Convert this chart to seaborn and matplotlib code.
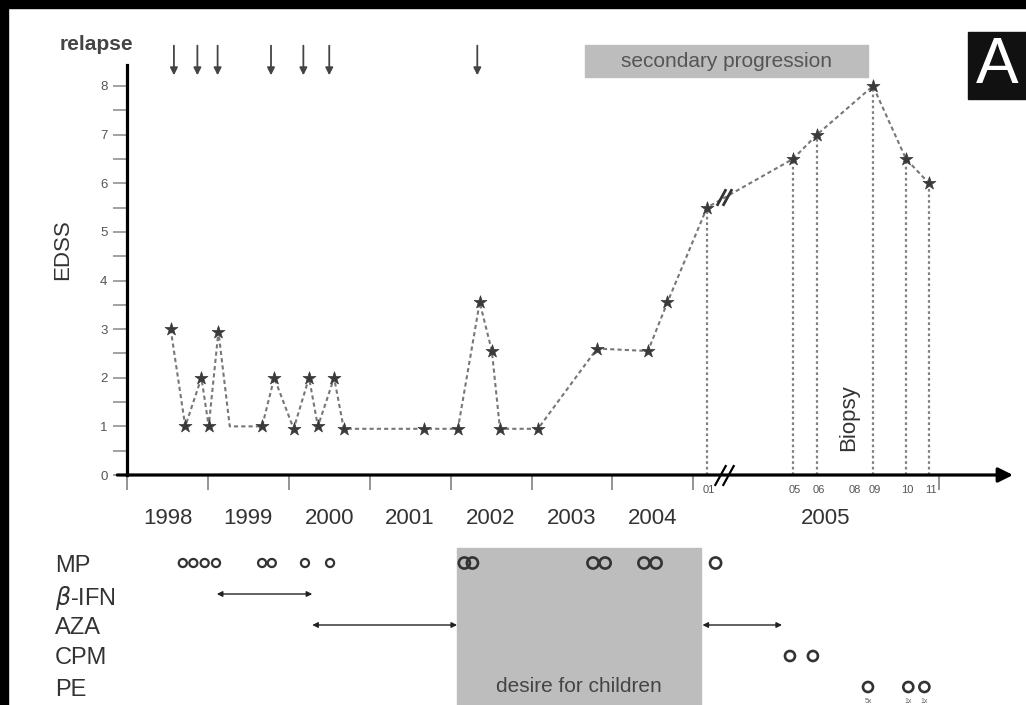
import numpy as np
import pandas as pd
import matplotlib
matplotlib.use("Agg")
import matplotlib.pyplot as plt
import matplotlib.transforms as mtransforms
from matplotlib.patches import Rectangle
import seaborn as sns

# ---------------- data ----------------
# EDSS course 1998-2004 (decimal years)
edss_years = [1998.54, 1998.72, 1998.92, 1999.01, 1999.13, 1999.27, 1999.67, 1999.82,
              2000.06, 2000.25, 2000.36, 2000.56, 2000.68, 2001.67, 2002.09, 2002.36,
              2002.51, 2002.61, 2003.08, 2003.81, 2004.44, 2004.68]
edss_values = [3.0, 1.0, 2.0, 1.0, 2.95, 1.0, 1.0, 2.0, 0.95, 2.0, 1.0, 2.0, 0.95,
               0.95, 0.95, 3.55, 2.55, 0.95, 0.95, 2.6, 2.55, 3.55]
edss_is_visit = [True] * 5 + [False] + [True] * 16
# EDSS in 2005 (month numbers)
edss_2005_months = [1, 5, 6, 9, 10, 11]
edss_2005_values = [5.5, 6.5, 7.0, 8.0, 6.5, 6.0]

relapse_years = [1998.58, 1998.87, 1999.12, 1999.78, 2000.18, 2000.50, 2002.33]

year_labels = ["1998", "1999", "2000", "2001", "2002", "2003", "2004"]
month_label_nums = [1, 5, 6, 8, 9, 10, 11]
month_labels_2005 = ["01", "05", "06", "08", "09", "10", "11"]

treatments = ["MP", r"$\beta$-IFN", "AZA", "CPM", "PE"]
mp_years = [1998.69, 1998.82, 1998.96, 1999.10, 1999.67, 1999.79, 2000.20, 2000.51,
            2002.17, 2002.27, 2003.76, 2003.91, 2004.39, 2004.54]
mp_2005_months = [1.4]
ifn_span_years = [1999.11, 2000.29]
aza_span_years = [2000.29, 2002.08]
aza_2005_span_months = [0.67, 4.49]
cpm_2005_months = [4.86, 5.83]
pe_2005_months = [8.75, 10.1, 10.8]
pe_counts = ["5x", "1x", "1x"]

desire_start_year = 2002.08
desire_end_month_2005 = 0.58
progression_start_year = 2003.66
progression_end_month_2005 = 8.75
biopsy_month_2005 = 8

# ---------------- broken time axis ----------------
MONTH_KNOTS = [0, 1, 5, 6, 8, 9, 10, 11, 12]
MONTH_AXIS = [7.0, 7.169, 8.232, 8.529, 8.974, 9.221, 9.629, 9.913, 10.037]


def year_pos(y):
    return np.asarray(y, float) - 1998.0


def month_pos(m):
    return np.interp(m, MONTH_KNOTS, MONTH_AXIS)


# ---------------- figure ----------------
sns.set_theme(style="white")
plt.rcParams["font.family"] = ["Liberation Sans", "DejaVu Sans"]
plt.rcParams["mathtext.fontset"] = "dejavusans"

W, H = 1026, 705
fig = plt.figure(figsize=(W / 100, H / 100), dpi=100, facecolor="white")
fig.add_artist(Rectangle((0, 0), 8 / W, 1, transform=fig.transFigure, color="black", zorder=0))
fig.add_artist(Rectangle((0, 1 - 8 / H), 1, 8 / H, transform=fig.transFigure, color="black", zorder=0))

PXX, PXY = 80.9, 48.625
XMAX = 886 / PXX
YMAX = 467 / PXY

ax = fig.add_axes([127 / W, 230 / H, 886 / W, 467 / H])
ax.set_facecolor("none")

line_df = pd.DataFrame({
    "pos": np.concatenate([year_pos(edss_years), month_pos(edss_2005_months)]),
    "edss": edss_values + edss_2005_values,
    "visit": edss_is_visit + [True] * len(edss_2005_values),
})

sns.lineplot(data=line_df, x="pos", y="edss", sort=False, estimator=None,
             color="#777777", linewidth=1.5, ax=ax, zorder=3)
ax.lines[-1].set_linestyle((0, (2.0, 1.5)))

ax.vlines(month_pos(edss_2005_months), 0, edss_2005_values, colors="#808080",
          linestyles=(0, (1.2, 1.3)), linewidth=1.6, zorder=2)

sns.scatterplot(data=line_df[line_df["visit"]], x="pos", y="edss", marker="*", s=95,
                color="#3a3a3a", edgecolor="#3a3a3a", linewidth=0.5, ax=ax, zorder=5,
                legend=False)

# relapse arrows
for x in year_pos(relapse_years):
    ax.annotate("", xy=(x, 8.22), xytext=(x, 8.83),
                arrowprops=dict(arrowstyle="-|>", color="#444444", lw=1.3,
                                mutation_scale=11, shrinkA=0, shrinkB=0),
                annotation_clip=False)
ax.text(-0.38, 8.86, "relapse", ha="center", va="center", fontsize=15,
        fontweight="bold", color="#444444", clip_on=False)

# secondary progression box
px0 = float(year_pos(progression_start_year))
px1 = float(month_pos(progression_end_month_2005))
ax.add_patch(Rectangle((px0, 8.185), px1 - px0, 0.658, color="#bdbdbd", zorder=1, clip_on=False))
ax.text((px0 + px1) / 2, 8.51, "secondary progression", ha="center", va="center",
        fontsize=15, color="#555555", zorder=2)

# biopsy
ax.text(month_pos(biopsy_month_2005) - 0.05, 1.17, "Biopsy", rotation=90, ha="center",
        va="center", fontsize=16, color="#333333")

# axis break marks
brk = float(month_pos(1.8))
slash = [(-0.55, -1), (0.55, 1)]
ax.plot([brk - 0.05, brk + 0.05], [0, 0], ls="none", marker=slash, ms=15, mew=1.6,
        color="black", clip_on=False, zorder=6)
ax.plot([brk - 0.04, brk + 0.04], [5.72, 5.72], ls="none", marker=slash, ms=12, mew=2.0,
        color="#333333", clip_on=False, zorder=6)

# x axis with arrow
ax.annotate("", xy=(XMAX, 0), xytext=(-0.12, 0),
            arrowprops=dict(arrowstyle="-|>", color="black", lw=2.3, mutation_scale=22,
                            shrinkA=0, shrinkB=0),
            annotation_clip=False, zorder=4)

for s in ["top", "right", "bottom"]:
    ax.spines[s].set_visible(False)
ax.spines["left"].set_bounds(0, 8.43)
ax.spines["left"].set_linewidth(2.3)
ax.spines["left"].set_color("black")

ax.set_xlim(0, XMAX)
ax.set_ylim(0, YMAX)
ax.set_xticks(list(range(8)) + [float(month_pos(12))], labels=[""] * 9)
ax.set_xticks(list(year_pos(np.arange(1998, 2005) + 0.5)) + [float(month_pos(6.5))],
              labels=year_labels + ["2005"], minor=True)
ax.tick_params(axis="x", which="major", direction="out", length=10.5, width=1.1,
               color="#777777", bottom=True)
ax.tick_params(axis="x", which="minor", length=0, pad=24, labelsize=16,
               labelcolor="#333333", bottom=True)
ax.set_yticks(range(9))
ax.set_yticks(np.arange(0.5, 8, 1), minor=True)
ax.tick_params(axis="y", which="both", direction="out", length=10, width=1.1,
               color="#888888", left=True)
ax.tick_params(axis="y", which="major", labelsize=9.5, labelcolor="#555555", pad=4)
ax.set_xlabel("")
ax.set_ylabel("EDSS", fontsize=16, color="#333333")
ax.yaxis.set_label_coords(-(127 - 73) / 886, 0.482)

trans = mtransforms.blended_transform_factory(ax.transData, ax.transAxes)
for m, lab in zip(month_label_nums, month_labels_2005):
    ax.text(month_pos(m) + 0.02, -10 / 467, lab, transform=trans, ha="center", va="top",
            fontsize=8, color="#555555")

# ---------------- treatment panel ----------------
ax2 = fig.add_axes([127 / W, 0, 886 / W, 165 / H])
ax2.set_facecolor("none")
ax2.set_xlim(0, XMAX)
ax2.set_ylim((705 - 563) / 31, (540 - 563) / 31)
for s in ax2.spines.values():
    s.set_visible(False)
ax2.set_xticks([])
ax2.set_yticks(range(5), labels=treatments)
ax2.tick_params(axis="y", length=0, pad=52, labelsize=17, labelcolor="#333333", left=True)
for t in ax2.get_yticklabels():
    t.set_ha("left")

d0 = float(year_pos(desire_start_year))
d1 = float(month_pos(desire_end_month_2005))
ax2.add_patch(Rectangle((d0, (548 - 563) / 31), d1 - d0, 6, color="#bdbdbe", zorder=1))
ax2.text((d0 + d1) / 2, 3.97, "desire for children", ha="center", va="center",
         fontsize=15, color="#444444", zorder=2)


def circles(xs, row, s, lw):
    df = pd.DataFrame({"pos": xs, "row": [row] * len(xs)})
    sns.scatterplot(data=df, x="pos", y="row", marker="o", s=s, ax=ax2, zorder=4,
                    legend=False)
    c = ax2.collections[-1]
    c.set_facecolor("none")
    c.set_edgecolor("#333333")
    c.set_linewidth(lw)


mp_pos = np.concatenate([year_pos(mp_years), month_pos(mp_2005_months)])
mp_small = np.array(mp_years + [2005.0]) < 2001
circles(mp_pos[mp_small], 0, 34, 1.6)
circles(mp_pos[~mp_small], 0, 64, 1.9)
circles(month_pos(cpm_2005_months), 3, 52, 1.9)
circles(month_pos(pe_2005_months), 4, 52, 1.9)
for x, lab in zip(month_pos(pe_2005_months), pe_counts):
    ax2.text(x, 4.47, lab, ha="center", va="center", fontsize=5, color="#666666")

spans = [(year_pos(ifn_span_years), 1), (year_pos(aza_span_years), 2),
         (month_pos(aza_2005_span_months), 2)]
for (a, b), row in spans:
    ax2.annotate("", xy=(b, row), xytext=(a, row),
                 arrowprops=dict(arrowstyle="<|-|>", color="#222222", lw=1.0,
                                 mutation_scale=8, shrinkA=0, shrinkB=0), zorder=3)
ax2.set_xlabel("")
ax2.set_ylabel("")

# panel letter
fig.add_artist(Rectangle((968 / W, 1 - 99 / H), 58 / W, 67 / H, transform=fig.transFigure,
                         color="#111111", zorder=5))
fig.text(997 / W, 1 - 66 / H, "A", ha="center", va="center", fontsize=46,
         color="white", zorder=6)

fig.savefig("out.png", dpi=100, facecolor=fig.get_facecolor())
